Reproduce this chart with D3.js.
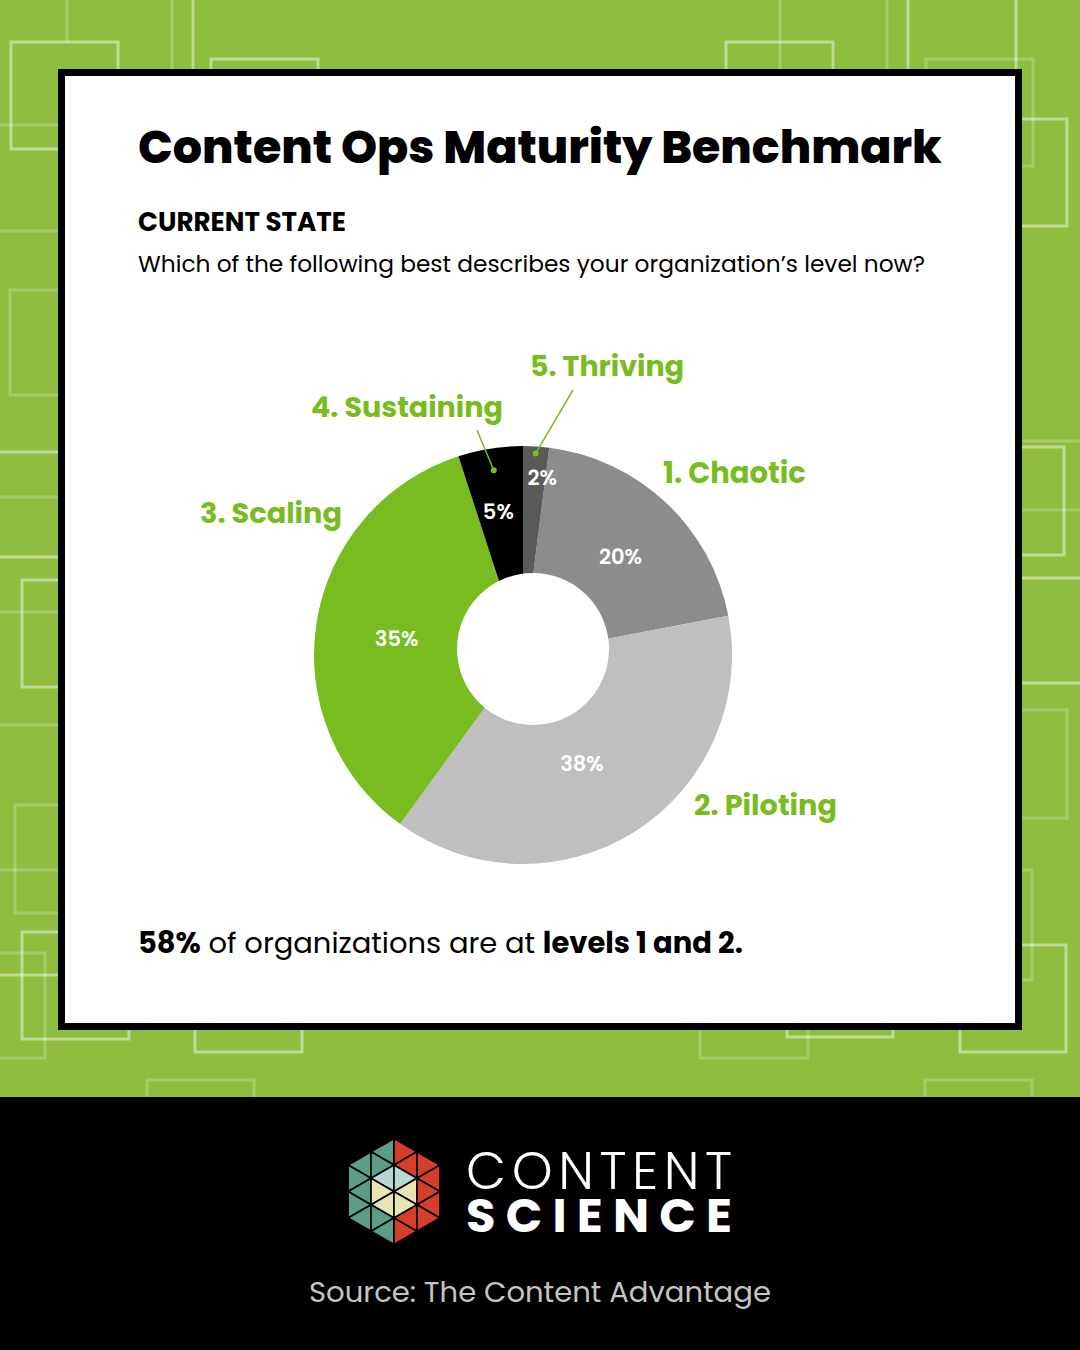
<!DOCTYPE html>
<html>
<head>
<meta charset="utf-8">
<script src="https://cdn.jsdelivr.net/npm/d3@7"></script>
<style>
  html, body { margin: 0; padding: 0; background: #000; }
  svg { display: block; }
  text { font-family: Poppins, Inter, "Open Sans", sans-serif; }
</style>
</head>
<body>
<svg id="chart" width="1080" height="1350"></svg>
<script>
// ---------------- DATA ----------------
const categories = ["1. Chaotic", "2. Piloting", "3. Scaling", "4. Sustaining", "5. Thriving"];
const values = [20, 38, 35, 5, 2];
const sliceColors = ["#8c8c8c", "#bfbfbf", "#78bc1f", "#000000", "#595959"];
const pctColors = ["#ffffff", "#ffffff", "#ffffff", "#ffffff", "#ffffff"];

const titleText = "Content Ops Maturity Benchmark";
const sectionText = "CURRENT STATE";
const questionText = "Which of the following best describes your organization\u2019s level now?";
const summaryParts = [["58%", true], [" of organizations are at ", false], ["levels 1 and 2.", true]];
const sourceText = "Source: The Content Advantage";

// ---------------- LAYOUT ----------------
const W = 1080, H = 1350;
const svg = d3.select("#chart");
const green = "#8fbd40";
const labelGreen = "#78bc20";

// background
svg.append("rect").attr("width", W).attr("height", 1097).attr("fill", green);

// decorative pattern (rect outlines and lines)
const bgRects = [
  [11, 42, 107, 107, 0.45], [211, 59, 107, 107, 0.45], [726, 42, 107, 107, 0.45],
  [926, 59, 107, 107, 0.22], [960, 119, 107, 107, 0.45],
  [10, 290, 107, 105, 0.22], [22, 580, 107, 107, 0.45], [15, 805, 107, 108, 0.22],
  [22, 932, 107, 107, 0.45], [-62, 953, 107, 105, 0.22],
  [195, 945, 107, 107, 0.45], [147, 1080, 107, 107, 0.22], [700, 950, 108, 108, 0.22],
  [787, 930, 106, 107, 0.45], [960, 945, 106, 107, 0.45], [925, 1080, 107, 107, 0.22],
  [957, 447, 107, 108, 0.45], [960, 710, 107, 108, 0.22], [925, 870, 107, 110, 0.22]
];
const bgLines = [
  [67, 0, 67, 42, 0.22], [172, 0, 172, 70, 0.22], [193, 0, 193, 70, 0.45],
  [780, 0, 780, 70, 0.22], [887, 0, 887, 70, 0.22], [908, 0, 908, 70, 0.45], [1016, 0, 1016, 70, 0.45],
  [0, 125, 58, 125, 0.22], [0, 231, 58, 231, 0.22],
  [0, 452, 58, 452, 0.45], [0, 497, 58, 497, 0.22], [0, 557, 58, 557, 0.45], [0, 612, 58, 612, 0.22],
  [0, 725, 58, 725, 0.22], [0, 870, 58, 870, 0.22], [0, 975, 58, 975, 0.45],
  [1022, 441, 1080, 441, 0.22], [1022, 578, 1080, 578, 0.45], [1022, 510, 1080, 510, 0.22],
  [1022, 683, 1080, 683, 0.45]
];
const pat = svg.append("g");
pat.selectAll("rect").data(bgRects).join("rect")
  .attr("x", d => d[0]).attr("y", d => d[1]).attr("width", d => d[2]).attr("height", d => d[3])
  .attr("fill", "none").attr("stroke", d => `rgba(255,255,255,${d[4]})`).attr("stroke-width", 3);
pat.selectAll("line").data(bgLines).join("line")
  .attr("x1", d => d[0]).attr("y1", d => d[1]).attr("x2", d => d[2]).attr("y2", d => d[3])
  .attr("stroke", d => `rgba(255,255,255,${d[4]})`).attr("stroke-width", 3);

// card
svg.append("rect").attr("x", 61.5).attr("y", 72.5).attr("width", 957).attr("height", 954)
  .attr("fill", "#fff").attr("stroke", "#000").attr("stroke-width", 7);

// footer
svg.append("rect").attr("x", 0).attr("y", 1097).attr("width", W).attr("height", H - 1097).attr("fill", "#000");

function fitWidth(sel, target) {
  const fs = parseFloat(sel.attr("font-size"));
  const len = sel.node().getComputedTextLength();
  sel.attr("font-size", (fs * target / len).toFixed(2));
}

// titles
const title = svg.append("text").attr("x", 138).attr("y", 163)
  .attr("font-size", 46).attr("font-weight", 800).attr("fill", "#000").text(titleText);
fitWidth(title, 804);
const sect = svg.append("text").attr("x", 138).attr("y", 231)
  .attr("font-size", 24).attr("font-weight", 700).attr("fill", "#000").text(sectionText);
fitWidth(sect, 208);
const quest = svg.append("text").attr("x", 138).attr("y", 272)
  .attr("font-size", 22).attr("font-weight", 400).attr("fill", "#000").text(questionText);
fitWidth(quest, 787);

// ---------------- DONUT ----------------
const cx = 523, cy = 655, R = 209;
const holeR = 76, holeDx = 10, holeDy = -6;
const total = d3.sum(values);
const a0 = 2 * Math.PI * values[values.length - 1] / total;
const pie = d3.pie().sort(null).value(d => d.value).startAngle(a0).endAngle(a0 + 2 * Math.PI);
const data = categories.map((c, i) => ({ cat: c, value: values[i], color: sliceColors[i], pc: pctColors[i] }));
const arcs = pie(data);
const arc = d3.arc().innerRadius(0).outerRadius(R);
const g = svg.append("g").attr("transform", `translate(${cx},${cy})`);
g.selectAll("path.slice").data(arcs).join("path").attr("class", "slice")
  .attr("d", arc).attr("fill", d => d.data.color);
g.append("circle").attr("cx", holeDx).attr("cy", holeDy).attr("r", holeR).attr("fill", "#fff");

// percentage labels (radius along slice mid-angle, plus small nudges)
const pctLayout = {
  "1. Chaotic": { r: 135, dx: 5, dy: 0 },
  "2. Piloting": { r: 125, dx: -8, dy: 3 },
  "3. Scaling": { r: 128, dx: 0, dy: 3 },
  "4. Sustaining": { r: 145, dx: -2, dy: 0 },
  "5. Thriving": { r: 178, dx: 8, dy: 0 }
};
const midA = d => (d.startAngle + d.endAngle) / 2;
g.selectAll("text.pct").data(arcs).join("text").attr("class", "pct")
  .attr("x", d => { const L = pctLayout[d.data.cat]; return L.r * Math.sin(midA(d)) + L.dx; })
  .attr("y", d => { const L = pctLayout[d.data.cat]; return -L.r * Math.cos(midA(d)) + L.dy; })
  .attr("dy", "0.36em").attr("text-anchor", "middle")
  .attr("font-size", 21).attr("font-weight", 600).attr("fill", d => d.data.pc)
  .text(d => d.data.value + "%");

// category labels (annotation positions)
const catLayout = {
  "1. Chaotic": { x: 663, y: 483, w: 143 },
  "2. Piloting": { x: 694, y: 815, w: 143 },
  "3. Scaling": { x: 200, y: 523, w: 142 },
  "4. Sustaining": { x: 311, y: 417, w: 192, lead: [477, 430, 187] },
  "5. Thriving": { x: 530, y: 376, w: 154, lead: [573, 390, 202] }
};
arcs.forEach(d => {
  const L = catLayout[d.data.cat];
  const t = svg.append("text").attr("x", L.x).attr("y", L.y)
    .attr("font-size", 28).attr("font-weight", 700).attr("fill", labelGreen).text(d.data.cat);
  fitWidth(t, L.w);
  if (L.lead) {
    const m = midA(d);
    const ex = cx + L.lead[2] * Math.sin(m), ey = cy - L.lead[2] * Math.cos(m);
    svg.append("line").attr("x1", L.lead[0]).attr("y1", L.lead[1]).attr("x2", ex).attr("y2", ey)
      .attr("stroke", labelGreen).attr("stroke-width", 1.5);
    svg.append("circle").attr("cx", ex).attr("cy", ey).attr("r", 3).attr("fill", labelGreen);
  }
});

// summary sentence
const sum = svg.append("text").attr("x", 138).attr("y", 953).attr("font-size", 28).attr("fill", "#000");
summaryParts.forEach(p => sum.append("tspan").attr("font-weight", p[1] ? 700 : 400).text(p[0]));
fitWidth(sum, 605);

// ---------------- FOOTER LOGO ----------------
const lc = [394, 1191.5], Ls = 26.5;
const e1 = [0, Ls], e2 = [Ls * Math.sqrt(3) / 2, Ls / 2];
const P = (i, j) => [lc[0] + i * e1[0] + j * e2[0], lc[1] + i * e1[1] + j * e2[1]];
const tris = [];
const Rh = 2 * Ls;
const inside = (x, y) => { const dx = Math.abs(x - lc[0]), dy = Math.abs(y - lc[1]);
  return dx <= Rh * Math.sqrt(3) / 2 + 0.01 && dy + dx / Math.sqrt(3) <= Rh + 0.01; };
for (let i = -4; i <= 4; i++) for (let j = -4; j <= 4; j++) {
  [[P(i, j), P(i + 1, j), P(i, j + 1)], [P(i + 1, j), P(i, j + 1), P(i + 1, j + 1)]].forEach(t => {
    const c = [(t[0][0] + t[1][0] + t[2][0]) / 3, (t[0][1] + t[1][1] + t[2][1]) / 3];
    if (t.every(p => inside(p[0], p[1]))) tris.push({ pts: t, c });
  });
}
const triColor = d => {
  const dx = d.c[0] - lc[0], dy = d.c[1] - lc[1];
  if (Math.hypot(dx, dy) < Ls) return dy < -Ls * 0.1 ? "#b6d7d2" : "#e7e5b4";
  return dx < 0 ? "#5c9d88" : "#d43f2b";
};
svg.append("g").selectAll("path").data(tris).join("path")
  .attr("d", d => "M" + d.pts.map(p => p.join(",")).join("L") + "Z")
  .attr("fill", triColor).attr("stroke", "#000").attr("stroke-width", 1.6).attr("stroke-linejoin", "round");

const t1 = svg.append("text").attr("x", 466).attr("y", 1189).attr("font-size", 52).attr("font-weight", 300)
  .attr("fill", "#fff").text("CONTENT");
t1.attr("textLength", 266).attr("lengthAdjust", "spacing");
const t2 = svg.append("text").attr("x", 466).attr("y", 1232).attr("font-size", 48).attr("font-weight", 700)
  .attr("fill", "#fff").text("SCIENCE");
t2.attr("textLength", 266).attr("lengthAdjust", "spacing");

const src = svg.append("text").attr("x", 540).attr("y", 1302).attr("text-anchor", "middle")
  .attr("font-size", 29).attr("font-weight", 400).attr("fill", "#c4c4c4").text(sourceText);
fitWidth(src, 462);
</script>
</body>
</html>
